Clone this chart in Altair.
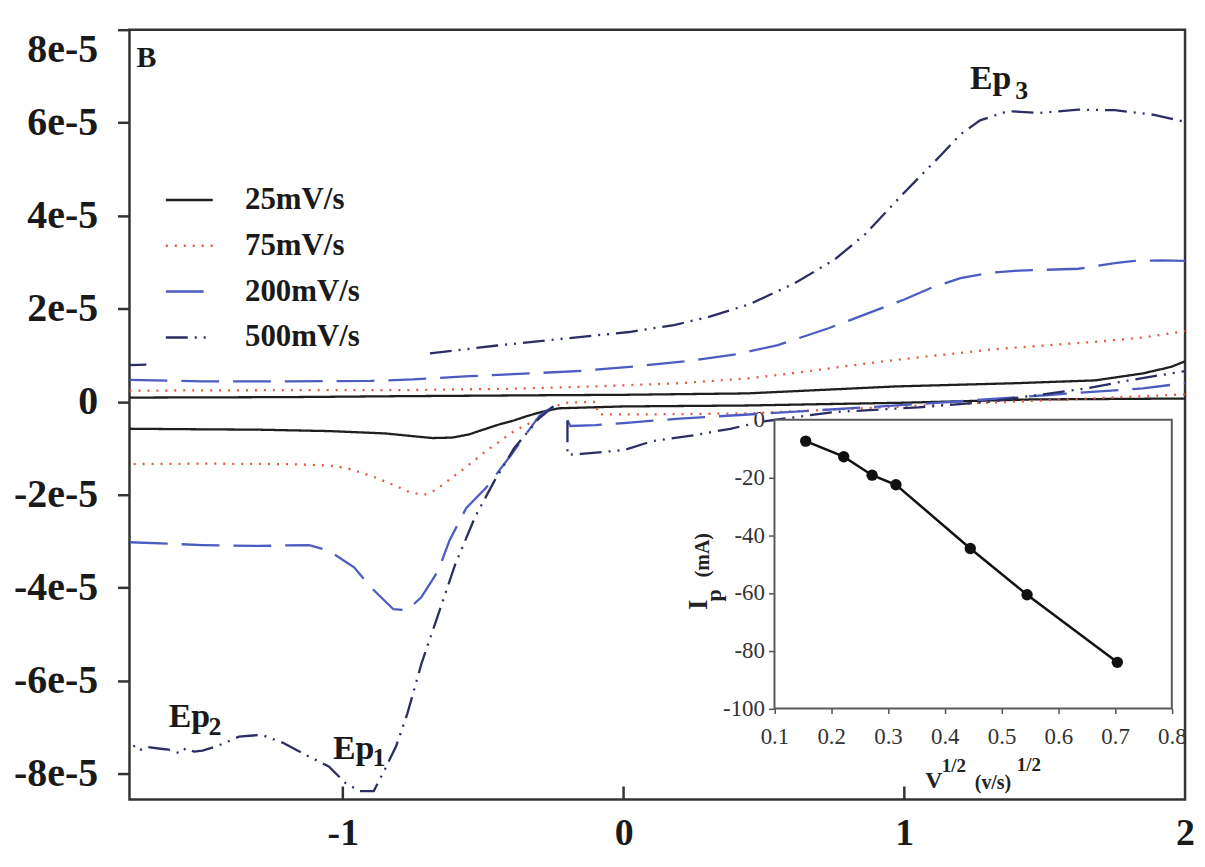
import altair as alt
import pandas as pd

FONT = "Liberation Serif"

# ---------------- main CV data (current in units of 1e-5 A) ----------------
rates = ["25mV/s", "75mV/s", "200mV/s", "500mV/s"]
colors = ["#1f1f1f", "#e2583e", "#4d5cc2", "#2a2e62"]
dashes = [[1, 0], [2, 7], [38, 14], [22, 7, 2, 7, 2, 7]]

r25_up_x = [-1.76, -1.2, -0.8, -0.3, 0.0, 0.44, 0.97, 1.4, 1.68, 1.85, 1.95, 2.0]
r25_up_y = [0.09, 0.1, 0.12, 0.14, 0.15, 0.18, 0.33, 0.4, 0.46, 0.61, 0.75, 0.87]
r25_dn_x = [2.0, 1.45, 1.0, 0.44, 0.0, -0.23, -0.28, -0.34, -0.39, -0.45, -0.5, -0.55,
            -0.61, -0.68, -0.75, -0.85, -1.05, -1.3, -1.55, -1.76]
r25_dn_y = [0.07, 0.05, -0.02, -0.08, -0.1, -0.14, -0.2, -0.3, -0.4, -0.5, -0.6, -0.7,
            -0.77, -0.78, -0.74, -0.68, -0.63, -0.6, -0.59, -0.58]

r75_up_x = [-1.76, -1.2, -0.8, -0.4, -0.1, 0.2, 0.44, 0.61, 0.86, 0.97, 1.32, 1.68, 1.85, 2.0]
r75_up_y = [0.24, 0.25, 0.25, 0.28, 0.33, 0.4, 0.5, 0.62, 0.82, 0.9, 1.13, 1.29, 1.38, 1.52]
r75_dn_x = [2.0, 1.7, 1.3, 1.0, 0.7, 0.44, 0.1, -0.09, -0.1, -0.2, -0.25, -0.3, -0.39, -0.49,
            -0.58, -0.67, -0.71, -0.76, -0.81, -0.9, -0.99, -1.05, -1.2, -1.5, -1.76]
r75_dn_y = [0.16, 0.08, -0.02, -0.1, -0.18, -0.25, -0.27, -0.27, 0.0, -0.02, -0.1, -0.35, -0.63,
            -1.06, -1.49, -1.9, -2.0, -1.95, -1.81, -1.59, -1.42, -1.37, -1.34, -1.33, -1.34]

r200_up_x = [-1.76, -1.5, -1.2, -0.9, -0.75, -0.55, -0.33, -0.14, 0.04, 0.22, 0.4, 0.55, 0.73,
             0.87, 1.0, 1.1, 1.2, 1.3, 1.41, 1.62, 1.75, 1.82, 1.92, 2.0]
r200_up_y = [0.47, 0.44, 0.44, 0.45, 0.48, 0.55, 0.61, 0.67, 0.76, 0.87, 1.02, 1.22, 1.58,
             1.9, 2.2, 2.46, 2.66, 2.77, 2.82, 2.86, 2.98, 3.03, 3.04, 3.03]
r200_rc_x = [-0.2, -0.19, -0.1, 0.0, 0.2, 0.4, 0.7, 1.1, 1.5, 1.85, 2.0]
r200_rc_y = [-0.4, -0.52, -0.5, -0.46, -0.36, -0.29, -0.18, -0.03, 0.14, 0.29, 0.4]
r200_lc_x = [-0.25, -0.3, -0.34, -0.4, -0.49, -0.56, -0.62, -0.66, -0.72, -0.77, -0.82, -0.9,
             -0.96, -1.05, -1.12, -1.3, -1.5, -1.76]
r200_lc_y = [-0.1, -0.3, -0.63, -1.14, -1.85, -2.28, -2.98, -3.63, -4.2, -4.48, -4.46, -3.99,
             -3.56, -3.2, -3.08, -3.1, -3.08, -3.02]

r500_up0_x = [-1.76, -1.7]
r500_up0_y = [0.79, 0.8]
r500_up_x = [-0.69, -0.45, -0.21, 0.02, 0.18, 0.3, 0.45, 0.61, 0.75, 0.86, 1.0, 1.13, 1.2,
             1.27, 1.37, 1.48, 1.62, 1.75, 1.89, 2.0]
r500_up_y = [1.04, 1.21, 1.36, 1.5, 1.65, 1.82, 2.1, 2.55, 3.05, 3.6, 4.5, 5.3, 5.75,
             6.05, 6.25, 6.21, 6.28, 6.27, 6.17, 6.02]
r500_rc_x = [-0.2, -0.2, -0.15, 0.0, 0.1, 0.26, 0.38, 0.5, 0.75, 1.05, 1.3, 1.65, 1.8, 1.91, 2.0]
r500_rc_y = [-0.4, -1.14, -1.12, -1.04, -0.85, -0.71, -0.58, -0.42, -0.22, -0.12, 0.0, 0.29,
             0.46, 0.57, 0.66]
r500_lc_x = [-0.25, -0.3, -0.39, -0.46, -0.53, -0.6, -0.66, -0.72, -0.77, -0.81, -0.85, -0.89,
             -0.94, -0.99, -1.05, -1.12, -1.21, -1.29, -1.37, -1.45, -1.5, -1.53, -1.56, -1.58,
             -1.62, -1.65, -1.7, -1.72, -1.74, -1.76]
r500_lc_y = [-0.1, -0.35, -1.0, -1.7, -2.49, -3.5, -4.57, -5.63, -6.7, -7.4, -7.9, -8.37,
             -8.37, -8.2, -7.84, -7.63, -7.34, -7.16, -7.2, -7.41, -7.5, -7.52, -7.45, -7.56,
             -7.48, -7.46, -7.42, -7.48, -7.38, -7.5]

segments = [
    ("25mV/s", "up", r25_up_x, r25_up_y),
    ("25mV/s", "dn", r25_dn_x, r25_dn_y),
    ("75mV/s", "up", r75_up_x, r75_up_y),
    ("75mV/s", "dn", r75_dn_x, r75_dn_y),
    ("200mV/s", "up", r200_up_x, r200_up_y),
    ("200mV/s", "rc", r200_rc_x, r200_rc_y),
    ("200mV/s", "lc", r200_lc_x, r200_lc_y),
    ("500mV/s", "up0", r500_up0_x, r500_up0_y),
    ("500mV/s", "up", r500_up_x, r500_up_y),
    ("500mV/s", "rc", r500_rc_x, r500_rc_y),
    ("500mV/s", "lc", r500_lc_x, r500_lc_y),
]

x_labels = [-1, 0, 1, 2]
x_ticks = [-1, 0, 1]
y_ticks = [-8, -6, -4, -2, 0, 2, 4, 6, 8]

# annotations (text, E, I, font size)
ann_text = ["B", "Ep", "1", "Ep", "2", "Ep", "3"]
ann_x = [-1.735, -1.035, -0.894, -1.62, -1.479, 1.234, 1.395]
ann_y = [7.19, -7.67, -7.84, -7.0, -7.17, 6.73, 6.5]
ann_fs = [30, 34, 26, 34, 26, 34, 26]

# ---------------- inset data ----------------
inset_x = [0.155, 0.222, 0.272, 0.314, 0.445, 0.545, 0.704]
inset_ip = [-7.4, -12.8, -19.2, -22.5, -44.6, -60.6, -84.0]
inset_xticks = [0.1, 0.2, 0.3, 0.4, 0.5, 0.6, 0.7, 0.8]
inset_yticks = [-100, -80, -60, -40, -20, 0]

ix_title_text = ["V", "1/2", "(v/s)", "1/2"]
ix_title_x = [0.381, 0.416, 0.485, 0.548]
ix_title_y = [-125.1, -119.8, -125.8, -119.4]
ix_title_fs = [24, 19, 20, 19]

iy_title_text = ["I", "p", "(mA)"]
iy_title_x = [-0.033, -0.006, -0.026]
iy_title_y = [-64.1, -60.8, -46.9]
iy_title_fs = [27, 22, 20]

# ---------------- build tables ----------------
rows = []
for rate, seg, xs, ys in segments:
    for i, (x, y) in enumerate(zip(xs, ys)):
        rows.append({"rate": rate, "seg": rate + "_" + seg, "i": i, "E": x, "I": y})
cv = pd.DataFrame(rows)

ann = pd.DataFrame({"t": ann_text, "E": ann_x, "I": ann_y, "fs": ann_fs})
xt = pd.DataFrame({"E": x_ticks})
ins = pd.DataFrame({"v": inset_x, "ip": inset_ip})
ins_box = pd.DataFrame({"x0": [0.1], "x1": [0.8], "y0": [-100], "y1": [0]})
ixt = pd.DataFrame({"t": ix_title_text, "v": ix_title_x, "ip": ix_title_y, "fs": ix_title_fs})
iyt = pd.DataFrame({"t": iy_title_text, "v": iy_title_x, "ip": iy_title_y, "fs": iy_title_fs})

W, H = 1060, 773
xs_main = alt.Scale(domain=[-1.76, 2.0], nice=False, zero=False)
ys_main = alt.Scale(domain=[-8.55, 8.0], nice=False, zero=False)

leg = alt.Legend(
    title=None, orient="none", legendX=25, legendY=136, padding=10,
    symbolType="stroke", symbolSize=2209, symbolStrokeWidth=2.5,
    labelFont=FONT, labelFontWeight="bold", labelFontSize=31, labelColor="#1a1a1a",
    labelOffset=31, rowPadding=6,
)

lines = alt.Chart(cv).mark_line(strokeWidth=2.3, clip=True).encode(
    x=alt.X("E:Q", scale=xs_main, axis=alt.Axis(
        values=x_labels, labelExpr="datum.value + ''", title=None, ticks=False,
        domain=False, grid=False,
        labelFont=FONT, labelFontWeight="bold", labelFontSize=38, labelColor="#1a1a1a",
        labelPadding=15, labelFlush=False)),
    y=alt.Y("I:Q", scale=ys_main, axis=alt.Axis(
        values=y_ticks, labelExpr="datum.value == 0 ? '0' : datum.value + 'e-5'",
        title=None, tickSize=12, tickWidth=2.5, tickColor="#333", domain=False, grid=False,
        labelFont=FONT, labelFontWeight="bold", labelFontSize=40, labelColor="#1a1a1a",
        labelPadding=20, labelFlush=True)),
    color=alt.Color("rate:N", scale=alt.Scale(domain=rates, range=colors), legend=leg),
    strokeDash=alt.StrokeDash("rate:N", scale=alt.Scale(domain=rates, range=dashes), legend=leg),
    detail="seg:N",
    order="i:Q",
)

xtick_rules = alt.Chart(xt).mark_rule(color="#333", strokeWidth=2.5).encode(
    x=alt.X("E:Q", scale=xs_main),
    y=alt.value(H),
    y2=alt.value(H - 13),
)

ann_layer = alt.Chart(ann).mark_text(
    align="left", baseline="alphabetic", font=FONT, fontWeight="bold", color="#1a1a1a"
).encode(
    x=alt.X("E:Q", scale=xs_main),
    y=alt.Y("I:Q", scale=ys_main),
    text="t:N",
    size=alt.Size("fs:Q", scale=None, legend=None),
)

main = alt.layer(lines, xtick_rules, ann_layer)

# ---------------- inset ----------------
xs_in = alt.Scale(domain=[0.1, 0.8], range=[647.7, 1046.7], nice=False, zero=False)
ys_in = alt.Scale(domain=[-100, 0], range=[681.7, 391.7], nice=False, zero=False)

box = alt.Chart(ins_box).mark_rect(fill="white", stroke="#5a5a5a", strokeWidth=2).encode(
    x=alt.X("x0:Q", scale=xs_in, axis=alt.Axis(
        orient="bottom", offset=-(H - 681.7), values=inset_xticks,
        labelExpr="format(datum.value, '.1f')", title=None,
        domain=False, grid=False, tickSize=5, tickColor="#555", tickWidth=1.5,
        labelFont=FONT, labelFontSize=23, labelColor="#333", labelPadding=12,
        labelFlush=False)),
    x2="x1:Q",
    y=alt.Y("y0:Q", scale=ys_in, axis=alt.Axis(
        orient="left", offset=-647.7, values=inset_yticks, labelExpr="datum.value + ''",
        title=None, domain=False, grid=False, tickSize=6, tickColor="#555", tickWidth=1.5,
        labelFont=FONT, labelFontSize=23, labelColor="#333", labelPadding=4,
        labelFlush=False)),
    y2="y1:Q",
)

ins_line = alt.Chart(ins).mark_line(color="#111", strokeWidth=2.5).encode(
    x=alt.X("v:Q", scale=xs_in), y=alt.Y("ip:Q", scale=ys_in)
)
ins_pts = alt.Chart(ins).mark_circle(color="#111", size=130, opacity=1).encode(
    x=alt.X("v:Q", scale=xs_in), y=alt.Y("ip:Q", scale=ys_in)
)
ins_xtitle = alt.Chart(ixt).mark_text(
    align="center", baseline="middle", font=FONT, fontWeight="bold", color="#222"
).encode(
    x=alt.X("v:Q", scale=xs_in), y=alt.Y("ip:Q", scale=ys_in), text="t:N",
    size=alt.Size("fs:Q", scale=None, legend=None),
)
ins_ytitle = alt.Chart(iyt).mark_text(
    align="center", baseline="middle", font=FONT, fontWeight="bold", color="#222", angle=270
).encode(
    x=alt.X("v:Q", scale=xs_in), y=alt.Y("ip:Q", scale=ys_in), text="t:N",
    size=alt.Size("fs:Q", scale=None, legend=None),
)

inset = alt.layer(box, ins_line, ins_pts, ins_xtitle, ins_ytitle)

chart = alt.layer(main, inset).resolve_scale(
    x="independent", y="independent"
).properties(
    width=W, height=H,
    padding={"left": 122, "top": 20, "right": 12, "bottom": 53},
    autosize=alt.AutoSizeParams(type="none"),
    background="white",
).configure_view(stroke="#333", strokeWidth=2.5)

chart.save("out.html", embed_options={"renderer": "svg", "actions": False})
